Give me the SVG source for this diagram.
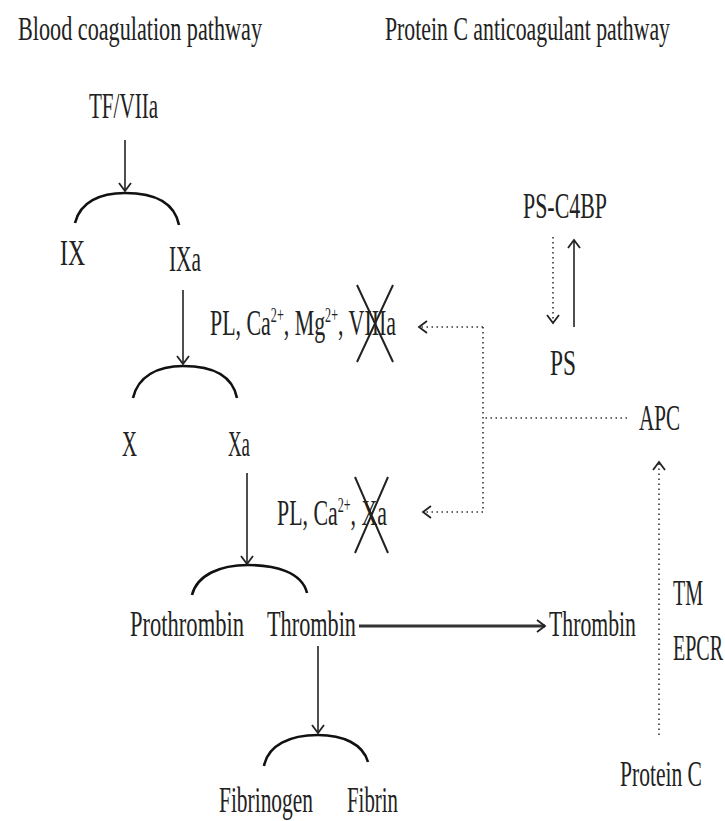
<svg xmlns="http://www.w3.org/2000/svg" width="725" height="821" viewBox="0 0 725 821">
<style>
text{font-family:"Liberation Serif","Times New Roman",serif;font-size:36px;fill:#222}
.title{font-size:34px}
.sup{font-size:20px}
.solid{stroke:#222;stroke-width:1.6;fill:none}
.thick{stroke:#333;stroke-width:3;fill:none}
.dot{stroke:#333;stroke-width:1.6;fill:none;stroke-dasharray:1.5 3.5}
.arc{stroke:#111;stroke-width:2.6;fill:none}
.cross{stroke:#222;stroke-width:2;fill:none}
</style>
<defs>
<marker id="ah" markerUnits="userSpaceOnUse" markerWidth="20" markerHeight="20" viewBox="-10 -10 20 20" refX="0" refY="0" orient="auto">
<path d="M-8,-6 L0,0 L-8,6" fill="none" stroke="#222" stroke-width="1.8"/>
</marker>
</defs>
<g id="titles">
<text class="title" x="18" y="40" textLength="244" lengthAdjust="spacingAndGlyphs">Blood coagulation pathway</text>
<text class="title" x="385" y="40" textLength="285" lengthAdjust="spacingAndGlyphs">Protein C anticoagulant pathway</text>
</g>
<g id="n-tf"><text x="89" y="118" textLength="69" lengthAdjust="spacingAndGlyphs">TF/VIIa</text></g>
<g id="n-ix"><text x="60" y="265" textLength="25" lengthAdjust="spacingAndGlyphs">IX</text></g>
<g id="n-ixa"><text x="169" y="271" textLength="32" lengthAdjust="spacingAndGlyphs">IXa</text></g>
<g id="n-x"><text x="122" y="456" textLength="15" lengthAdjust="spacingAndGlyphs">X</text></g>
<g id="n-xa"><text x="228" y="456" textLength="22" lengthAdjust="spacingAndGlyphs">Xa</text></g>
<g id="n-prothrombin"><text x="130" y="636" textLength="114" lengthAdjust="spacingAndGlyphs">Prothrombin</text></g>
<g id="n-thrombin1"><text x="267" y="636" textLength="89" lengthAdjust="spacingAndGlyphs">Thrombin</text></g>
<g id="n-thrombin2"><text x="549" y="636" textLength="87" lengthAdjust="spacingAndGlyphs">Thrombin</text></g>
<g id="n-fibrinogen"><text x="219" y="812" textLength="94" lengthAdjust="spacingAndGlyphs">Fibrinogen</text></g>
<g id="n-fibrin"><text x="347" y="812" textLength="51" lengthAdjust="spacingAndGlyphs">Fibrin</text></g>
<g id="n-psc4bp"><text x="523" y="218" textLength="84" lengthAdjust="spacingAndGlyphs">PS-C4BP</text></g>
<g id="n-ps"><text x="550" y="375" textLength="26" lengthAdjust="spacingAndGlyphs">PS</text></g>
<g id="n-apc"><text x="639" y="430" textLength="41" lengthAdjust="spacingAndGlyphs">APC</text></g>
<g id="n-tm"><text x="673" y="605" textLength="30" lengthAdjust="spacingAndGlyphs">TM</text><text x="673" y="660" textLength="50" lengthAdjust="spacingAndGlyphs">EPCR</text></g>
<g id="n-proteinc"><text x="620" y="786" textLength="82" lengthAdjust="spacingAndGlyphs">Protein C</text></g>
<g id="n-viiia">
<text x="210" y="335" textLength="186" lengthAdjust="spacingAndGlyphs">PL, Ca<tspan class="sup" dy="-13">2+</tspan><tspan dy="13">, Mg</tspan><tspan class="sup" dy="-13">2+</tspan><tspan dy="13">, VIIIa</tspan></text>
<path class="cross" d="M357,285 L393,362 M393,285 L357,362"/>
</g>
<g id="n-xa2">
<text x="277" y="525" textLength="110" lengthAdjust="spacingAndGlyphs">PL, Ca<tspan class="sup" dy="-13">2+</tspan><tspan dy="13">, Xa</tspan></text>
<path class="cross" d="M355,477 L388,553 M388,477 L355,553"/>
</g>
<g id="connectors">
<path class="arc" d="M75,223 C80,202 100,193 125,193 C150,193 174,200 179,225"/>
<path class="arc" d="M133,398 C138,376 158,366 183,366 C209,366 232,373 237,398"/>
<path class="arc" d="M192,595 C197,575 220,565 248,565 C275,565 302,572 307,593"/>
<path class="arc" d="M264,766 C268,745 290,735 318,735 C343,735 363,744 368,762"/>
<path class="solid" d="M125,140 L125,191" marker-end="url(#ah)"/>
<path class="solid" d="M183,290 L183,364" marker-end="url(#ah)"/>
<path class="solid" d="M247,473 L247,564" marker-end="url(#ah)"/>
<path class="solid" d="M318,646 L318,733" marker-end="url(#ah)"/>
<path class="thick" d="M359,626 L545,626" marker-end="url(#ah)"/>
<path class="dot" d="M553,237 L553,323" marker-end="url(#ah)"/>
<path class="solid" d="M574,327 L574,240" marker-end="url(#ah)"/>
<path class="dot" d="M627,418 L483,418"/>
<path class="dot" d="M483,327 L483,512"/>
<path class="dot" d="M483,327 L419,327" marker-end="url(#ah)"/>
<path class="dot" d="M483,512 L423,512" marker-end="url(#ah)"/>
<path class="dot" d="M659,735 L659,462" marker-end="url(#ah)"/>
</g>
</svg>
